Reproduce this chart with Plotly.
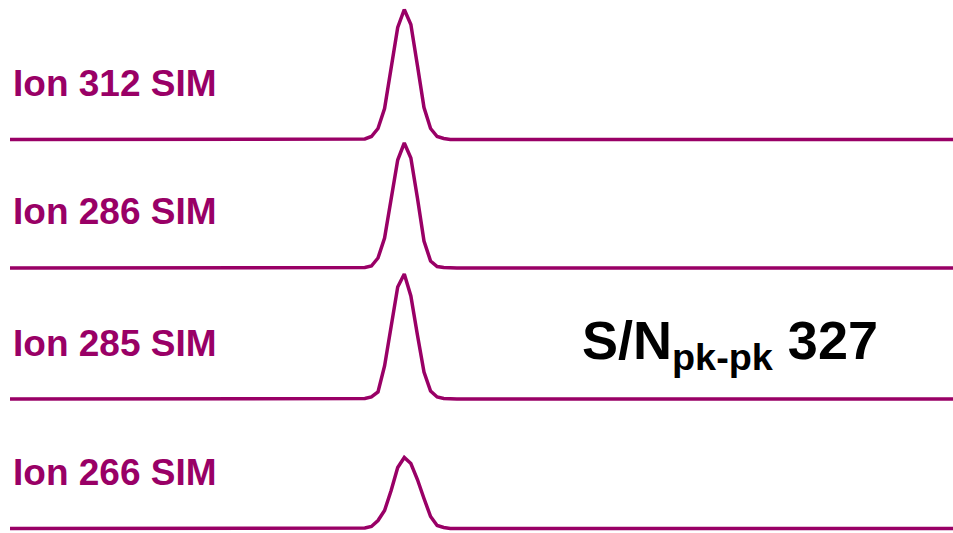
import plotly.graph_objects as go

# Selected-ion chromatograms: scan number vs. abundance (counts, arbitrary units)
ion_labels = ["Ion 312 SIM", "Ion 286 SIM", "Ion 285 SIM", "Ion 266 SIM"]

scans = list(range(0, 145))
peak_scans = list(range(54, 67))

peak_312 = [0.5, 3, 11, 31, 72, 112, 130, 115, 74, 32, 11, 3, 1]
peak_286 = [0.5, 2, 10, 30, 69, 108, 125, 110, 70, 27, 7, 1.5, 0.5]
peak_285 = [0.5, 2, 7, 33, 72, 112, 125, 103, 64, 27, 8, 2, 0.5]
peak_266 = [0.5, 2, 8, 18, 38, 61, 71, 65, 49, 30, 12, 3, 1]

sn_ratio = 327

LINE_COLOR = "#990066"
FONT = "Liberation Sans"
W, H = 953, 533


def full_trace(peak):
    """Flat baseline across all scans with the peak samples filled in."""
    lookup = dict(zip(peak_scans, peak))
    return [lookup.get(s, 0.0) for s in scans]


series = [peak_312, peak_286, peak_285, peak_266]
baselines_px = [139.5, 268, 399, 528.5]   # vertical position of each trace's baseline
y_lo, y_hi = -4, 131                      # 1 abundance unit per pixel

fig = go.Figure()
layout_axes = {}
for i, (label, peak, base) in enumerate(zip(ion_labels, series, baselines_px)):
    yname = "y" if i == 0 else f"y{i + 1}"
    ykey = "yaxis" if i == 0 else f"yaxis{i + 1}"
    bottom = 1 - (base - y_lo) / H
    top = bottom + (y_hi - y_lo) / H
    layout_axes[ykey] = dict(domain=[max(bottom, 0), min(top, 1)], range=[y_lo, y_hi],
                             visible=False, anchor="x", fixedrange=True)
    fig.add_trace(go.Scatter(x=scans, y=full_trace(peak), mode="lines",
                             line=dict(color=LINE_COLOR, width=3.5),
                             xaxis="x", yaxis=yname, hoverinfo="skip",
                             cliponaxis=False))
    fig.add_annotation(text=label, xref="paper", yref=yname, x=11 / W, y=56,
                       xanchor="left", yanchor="middle", showarrow=False,
                       font=dict(family=FONT, size=37, color=LINE_COLOR, weight="bold"))

fig.add_annotation(text=f"S/N<sub>pk-pk</sub> {sn_ratio}", xref="paper", yref="y3",
                   x=580 / W, y=55, xanchor="left", yanchor="middle", showarrow=False,
                   font=dict(family=FONT, size=54, color="black", weight="bold"))

fig.update_layout(
    width=W, height=H,
    margin=dict(l=0, r=0, t=0, b=0),
    paper_bgcolor="white", plot_bgcolor="rgba(0,0,0,0)",
    showlegend=False,
    xaxis=dict(domain=[10 / W, 1], range=[0, 143.5], visible=False, fixedrange=True),
    **layout_axes,
)

fig.write_html("out.html")
